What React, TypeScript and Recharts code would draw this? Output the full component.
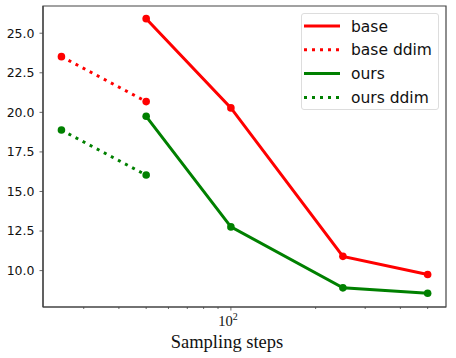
import { LineChart, Line, XAxis, YAxis, Legend, Label, ReferenceArea } from 'recharts';

// sampling steps (log scale)
const stepsBase = [50, 100, 250, 500];
const stepsDdim = [25, 50];

// series values
const baseVals = [25.92, 20.28, 10.9, 9.75];
const baseDdimVals = [23.52, 20.68];
const oursVals = [19.75, 12.76, 8.91, 8.57];
const oursDdimVals = [18.88, 16.04];

const xTicks = [30, 40, 50, 60, 70, 80, 90, 100, 200, 300, 400, 500];
const yTicks = [10, 12.5, 15, 17.5, 20, 22.5, 25];

const xDomain = [21.5, 581];
const yDomain = [7.7, 26.72];

const toRows = (xs: number[], ys: number[]) => xs.map((x, i) => ({ x, y: ys[i] }));

const series = [
  { name: 'base', data: toRows(stepsBase, baseVals), color: '#ff0000', dotted: false },
  { name: 'base ddim', data: toRows(stepsDdim, baseDdimVals), color: '#ff0000', dotted: true },
  { name: 'ours', data: toRows(stepsBase, oursVals), color: '#008000', dotted: false },
  { name: 'ours ddim', data: toRows(stepsDdim, oursDdimVals), color: '#008000', dotted: true },
];

const AXIS = '#444';

const XTick = (props: any) => {
  const { x, y, payload } = props;
  const major = payload.value === 100;
  return (
    <g>
      <line x1={x} x2={x} y1={y} y2={y + (major ? 3.5 : 2)} stroke={AXIS} strokeWidth={0.8} />
      {major && (
        <text x={x - 3} y={y + 19} textAnchor="middle" fontFamily="Liberation Serif" fontSize={14.5} fill="#111">
          10
          <tspan fontSize={10} dy={-6}>2</tspan>
        </text>
      )}
    </g>
  );
};

const LegendBox = () => (
  <div
    style={{
      width: 138,
      height: 97,
      border: '1px solid #ddd',
      borderRadius: 3,
      background: '#fff',
      boxSizing: 'border-box',
    }}
  >
    <svg width={136} height={95}>
      {series.map((s, i) => {
        const cy = 12 + i * 23.8;
        return (
          <g key={s.name}>
            <line
              x1={2}
              x2={38}
              y1={cy}
              y2={cy}
              stroke={s.color}
              strokeWidth={3}
              strokeDasharray={s.dotted ? '3 5' : undefined}
            />
            <text x={49} y={cy + 5.5} fontFamily="DejaVu Sans" fontSize={15.5} fill="#111">
              {s.name}
            </text>
          </g>
        );
      })}
    </svg>
  </div>
);

export default function App() {
  return (
    <div style={{ position: 'absolute', left: 0, top: 0, background: '#fff' }}>
      <LineChart width={456} height={358} margin={{ top: 6, right: 10, left: 0, bottom: 0 }}>
        <XAxis
          dataKey="x"
          type="number"
          scale="log"
          domain={xDomain}
          allowDataOverflow
          ticks={xTicks}
          interval={0}
          height={51}
          tickSize={0}
          tickMargin={0}
          tickLine={false}
          tick={<XTick />}
          axisLine={{ stroke: AXIS, strokeWidth: 1.2 }}
        >
          <Label
            content={() => (
              <text x={227} y={348} textAnchor="middle" fontFamily="Liberation Serif" fontSize={18.5} fill="#111">
                Sampling steps
              </text>
            )}
          />
        </XAxis>
        <YAxis
          type="number"
          domain={yDomain}
          allowDataOverflow
          ticks={yTicks}
          interval={0}
          width={43}
          tickSize={3.5}
          tickMargin={5}
          tickFormatter={(v: number) => v.toFixed(1)}
          tick={{ fill: '#111', fontSize: 12.5, fontFamily: 'DejaVu Sans' }}
          tickLine={{ stroke: AXIS, strokeWidth: 0.8 }}
          axisLine={{ stroke: AXIS, strokeWidth: 1.2 }}
        />
        <ReferenceArea
          x1={xDomain[0]}
          x2={xDomain[1]}
          y1={yDomain[0]}
          y2={yDomain[1]}
          fill="none"
          fillOpacity={0}
          stroke={AXIS}
          strokeWidth={1.2}
          ifOverflow="visible"
        />
        {series.map((s) => (
          <Line
            key={s.name}
            data={s.data}
            dataKey="y"
            name={s.name}
            type="linear"
            stroke={s.color}
            strokeWidth={3}
            strokeDasharray={s.dotted ? '3 5' : undefined}
            dot={{ r: 3.8, fill: s.color, stroke: s.color, strokeWidth: 0 }}
            activeDot={false}
            isAnimationActive={false}
          />
        ))}
        <Legend
          layout="vertical"
          align="center"
          verticalAlign="middle"
          content={<LegendBox />}
          wrapperStyle={{ top: 13, left: 301, width: 138, height: 97 }}
        />
      </LineChart>
    </div>
  );
}
